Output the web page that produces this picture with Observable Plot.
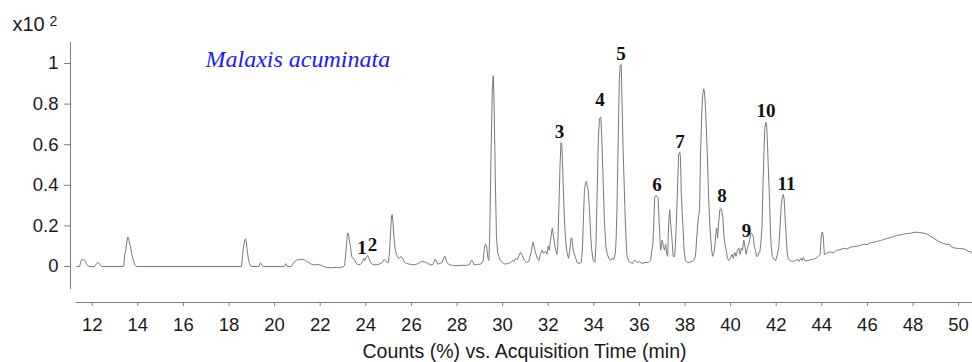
<!DOCTYPE html>
<html><head><meta charset="utf-8">
<script src="https://cdn.jsdelivr.net/npm/d3@7"></script>
<script src="https://cdn.jsdelivr.net/npm/@observablehq/plot@0.6"></script>
<style>body{margin:0;background:#fff} #chart{width:972px;height:362px}</style>
</head><body><div id="chart"></div>
<script>
// Retention time (min) and counts (x10^2)
const times = [11.31,11.45,11.5,11.55,11.62,11.68,11.75,11.85,12.1,12.2,12.27,12.35,12.42,13.38,13.43,13.47,13.52,13.56,13.6,13.64,13.68,13.72,13.78,13.86,13.94,18.55,18.6,18.64,18.68,18.72,18.76,18.8,18.84,18.9,18.97,19.3,19.38,19.45,19.52,20.42,20.49,20.55,20.72,20.85,20.95,21.05,21.12,21.2,21.3,21.4,21.5,21.6,21.75,21.9,22.0,22.15,22.3,22.5,22.7,22.85,23.0,23.07,
23.12,23.16,23.2,23.24,23.28,23.33,23.38,23.43,23.5,23.58,23.65,23.75,23.85,23.91,23.96,24.02,24.08,24.14,24.2,24.3,24.45,24.6,24.72,24.8,24.86,24.94,25.0,25.05,25.09,25.13,25.16,25.19,25.23,25.28,25.34,25.4,25.48,25.55,25.62,25.7,25.8,25.9,26.0,26.15,26.3,26.45,26.6,26.72,26.85,26.95,27.03,27.08,27.15,27.25,27.35,27.42,27.48,27.55,27.65,27.8,28.0,28.2,28.4,28.55,28.62,28.68,28.75,28.9,29.05,29.15,29.2,29.25,29.3,29.36,29.4,
29.44,29.5,29.55,29.59,29.62,29.68,29.73,29.78,29.83,29.9,29.98,30.1,30.25,30.35,30.45,30.5,30.57,30.65,30.72,30.79,30.86,30.95,31.05,31.15,31.25,31.33,31.38,31.44,31.52,31.59,31.66,31.74,31.8,31.88,31.95,32.0,32.05,32.1,32.18,32.23,32.28,32.33,32.38,32.42,32.47,32.52,32.56,32.6,32.64,32.68,32.72,32.77,32.82,32.89,32.95,33.0,33.04,33.1,33.18,33.27,33.35,33.45,33.5,33.55,33.59,33.64,33.68,33.72,33.75,33.78,33.82,33.86,33.9,33.97,34.05,34.1,34.15,34.2,34.25,34.31,34.36,34.41,34.47,34.53,34.59,34.66,34.73,34.8,34.88,34.95,34.98,35.02,35.05,35.09,35.12,35.16,35.2,
35.24,35.28,35.32,35.36,35.39,35.43,35.46,35.53,35.61,35.7,35.77,35.83,35.9,36.0,36.1,36.27,36.4,36.49,36.55,36.59,36.63,36.67,36.72,36.78,36.82,36.87,36.93,36.97,37.0,37.05,37.1,37.15,37.2,37.24,37.29,37.33,37.38,37.42,37.48,37.55,37.62,37.67,37.72,37.77,37.8,37.84,37.88,37.91,37.96,38.02,38.1,38.2,38.3,38.38,38.46,38.52,38.56,38.6,38.64,38.68,38.74,38.78,38.82,38.85,38.88,
38.93,38.98,39.02,39.05,39.09,39.12,39.17,39.21,39.26,39.31,39.36,39.39,39.43,39.48,39.53,39.58,39.62,39.66,39.69,39.72,39.77,39.81,39.86,39.92,39.98,40.03,40.07,40.12,40.18,40.24,40.3,40.36,40.42,40.47,40.52,40.58,40.63,40.68,40.74,40.8,40.85,40.9,40.95,40.99,41.04,41.09,41.14,41.19,41.24,41.28,41.33,41.38,41.42,41.46,41.5,41.54,41.58,41.62,41.65,41.71,41.75,41.78,41.83,41.9,41.98,42.05,42.12,42.17,42.22,42.27,42.31,42.35,42.4,42.44,42.48,42.53,42.6,42.68,42.77,42.85,42.93,43.0,43.08,43.14,43.19,43.25,43.35,43.45,43.52,43.62,43.72,43.8,43.88,43.93,43.97,44.01,44.05,44.08,44.11,44.14,
44.2,44.35,44.5,44.65,44.8,44.97,45.1,45.25,45.4,45.55,45.7,45.84,46.0,46.15,46.3,46.45,46.58,46.72,46.85,47.0,47.15,47.31,47.45,47.6,47.75,47.89,48.05,48.18,48.3,48.45,48.62,48.75,48.9,49.06,49.2,49.35,49.5,49.6,49.7,49.79,49.9,50.05,50.23,50.35,50.52,50.6];
const counts = [0,0,0.025,0.035,0.033,0.03,0.012,0,0,0.015,0.02,0.008,0,0,0.06,0.08,0.12,0.145,0.14,0.11,0.1,0.07,0.04,0.012,0,0,0.06,0.1,0.125,0.136,0.12,0.08,0.045,0.015,0,0,0.018,0.005,0,0,0.014,0,0,0.02,0.03,0.035,0.033,0.037,0.033,0.025,0.02,0.012,0.008,0.01,0.008,0,-0.005,-0.006,-0.004,-0.006,-0.002,0.005,
0.06,0.12,0.165,0.16,0.13,0.095,0.05,0.04,0.035,0.015,0.01,0.01,0.02,0.04,0.03,0.045,0.055,0.04,0.02,0.01,0.008,0.012,0.02,0.035,0.03,0.018,0.02,0.09,0.18,0.25,0.256,0.22,0.15,0.09,0.06,0.045,0.04,0.05,0.04,0.02,0.015,0.012,0.01,0.008,0.015,0.025,0.022,0.015,0.008,0.01,0.035,0.03,0.012,0.015,0.02,0.045,0.05,0.02,0.01,0.005,0.004,0.006,0.005,0.01,0.03,0.028,0.008,0.01,0.012,0.03,0.09,0.11,0.1,0.04,0.03,
0.18,0.59,0.88,0.94,0.84,0.43,0.15,0.07,0.05,0.03,0.02,0.012,0.015,0.02,0.03,0.025,0.04,0.035,0.055,0.07,0.055,0.03,0.02,0.025,0.07,0.12,0.1,0.07,0.04,0.03,0.06,0.08,0.065,0.075,0.06,0.1,0.08,0.13,0.19,0.15,0.11,0.08,0.06,0.1,0.3,0.5,0.61,0.6,0.47,0.33,0.21,0.12,0.07,0.04,0.08,0.14,0.14,0.08,0.05,0.02,0.015,0.02,0.08,0.25,0.38,0.41,0.42,0.39,0.38,0.33,0.26,0.16,0.09,0.03,0.02,0.12,0.38,0.63,0.73,0.735,0.6,0.42,0.21,0.1,0.06,0.04,0.03,0.04,0.035,0.07,0.14,0.3,0.5,0.75,0.92,0.99,0.995,
0.8,0.6,0.45,0.3,0.2,0.1,0.05,0.025,0.02,0.015,0.03,0.03,0.02,0.025,0.015,0.02,0.02,0.03,0.08,0.11,0.21,0.34,0.35,0.345,0.34,0.21,0.08,0.1,0.13,0.1,0.08,0.11,0.06,0.05,0.23,0.28,0.2,0.15,0.05,0.05,0.21,0.38,0.55,0.563,0.54,0.35,0.26,0.2,0.08,0.03,0.02,0.02,0.025,0.03,0.05,0.15,0.21,0.25,0.28,0.55,0.77,0.85,0.875,0.86,0.82,
0.7,0.55,0.4,0.3,0.2,0.15,0.08,0.05,0.06,0.1,0.17,0.19,0.14,0.22,0.28,0.285,0.27,0.24,0.18,0.14,0.1,0.08,0.04,0.03,0.04,0.05,0.06,0.04,0.07,0.05,0.08,0.09,0.06,0.09,0.08,0.13,0.1,0.06,0.09,0.11,0.14,0.165,0.16,0.15,0.1,0.08,0.05,0.05,0.07,0.07,0.12,0.2,0.4,0.55,0.68,0.71,0.7,0.6,0.5,0.32,0.17,0.1,0.05,0.035,0.03,0.06,0.1,0.2,0.3,0.34,0.355,0.33,0.22,0.15,0.07,0.035,0.03,0.025,0.026,0.03,0.035,0.025,0.04,0.03,0.045,0.03,0.028,0.03,0.035,0.035,0.04,0.045,0.055,0.06,0.14,0.17,0.165,0.12,0.06,0.06,
0.065,0.072,0.068,0.08,0.083,0.09,0.086,0.095,0.098,0.1,0.104,0.11,0.108,0.117,0.12,0.124,0.128,0.133,0.138,0.142,0.147,0.153,0.156,0.16,0.162,0.164,0.168,0.169,0.167,0.165,0.16,0.15,0.14,0.128,0.12,0.113,0.108,0.11,0.095,0.092,0.09,0.088,0.087,0.08,0.07,0.072];

const peakLabels = ["1","2","3","4","5","6","7","8","9","10","11"];
const peakLabelTimes = [23.83,24.29,32.5,34.27,35.19,36.77,37.78,39.62,40.7,41.55,42.45];
const peakLabelValues = [0.064,0.074,0.631,0.793,1.015,0.374,0.586,0.32,0.143,0.734,0.379];

const xTicks = [12,14,16,18,20,22,24,26,28,30,32,34,36,38,40,42,44,46,48,50];
const yTicks = [0,0.2,0.4,0.6,0.8,1];
const titleText = ["Malaxis acuminata"];
const xLabelText = ["Counts (%) vs. Acquisition Time (min)"];
const scaleText = ["x10"];
const scaleExp = ["2"];

const xDomain = [11.048, 50.61];
const yDomain = [-0.1773, 1.1034];
const xAxisStart = 11.31;
const yAxisBottom = -0.113;

const trace = times.map((t, i) => ({t, v: counts[i]}));
const peaks = peakLabels.map((s, i) => ({s, t: peakLabelTimes[i], v: peakLabelValues[i]}));

const chart = Plot.plot({
  width: 972, height: 362,
  marginLeft: 70, marginRight: 0, marginTop: 42, marginBottom: 60,
  style: {fontFamily: "'Liberation Sans', Arial, sans-serif", background: "#fff"},
  x: {domain: xDomain},
  y: {domain: yDomain},
  marks: [
    Plot.ruleX([xDomain[0]], {y1: yAxisBottom, y2: yDomain[1], stroke: "#808080"}),
    Plot.ruleY([yDomain[0]], {x1: xAxisStart, x2: xDomain[1], stroke: "#808080"}),
    Plot.axisY(yTicks, {anchor: "left", tickSize: 6, tickPadding: 6, fontSize: 18.5, stroke: "#808080", fill: "#1a1a1a", tickFormat: d => String(d), label: null}),
    Plot.axisX(xTicks, {anchor: "bottom", tickSize: 4, tickPadding: 11, fontSize: 18.5, stroke: "#808080", fill: "#1a1a1a", label: null}),
    Plot.line(trace, {x: "t", y: "v", stroke: "#7a7a7a", strokeWidth: 1}),
    Plot.text(peaks, {x: "t", y: "v", text: "s", lineAnchor: "bottom", textAnchor: "middle", fontFamily: "'Liberation Serif', 'Times New Roman', serif", fontWeight: "bold", fontSize: 19, fill: "#111"}),
    Plot.text(titleText, {text: d => d, frameAnchor: "top-left", dx: 135, dy: 24.7, textAnchor: "start", lineAnchor: "bottom", fontFamily: "'Liberation Serif', 'Times New Roman', serif", fontStyle: "italic", fontSize: 24, fill: "#1a1aff"}),
    Plot.text(xLabelText, {text: d => d, frameAnchor: "bottom", dx: 3, dy: 55, lineAnchor: "bottom", fontSize: 19.5, fill: "#1a1a1a"}),
    Plot.text(scaleText, {text: d => d, frameAnchor: "top-left", dx: -58, dy: -12, textAnchor: "start", lineAnchor: "bottom", fontSize: 20, fill: "#1a1a1a"}),
    Plot.text(scaleExp, {text: d => d, frameAnchor: "top-left", dx: -21, dy: -17, textAnchor: "start", lineAnchor: "bottom", fontSize: 14, fill: "#1a1a1a"})
  ]
});
document.getElementById("chart").appendChild(chart);
</script>
</body></html>
